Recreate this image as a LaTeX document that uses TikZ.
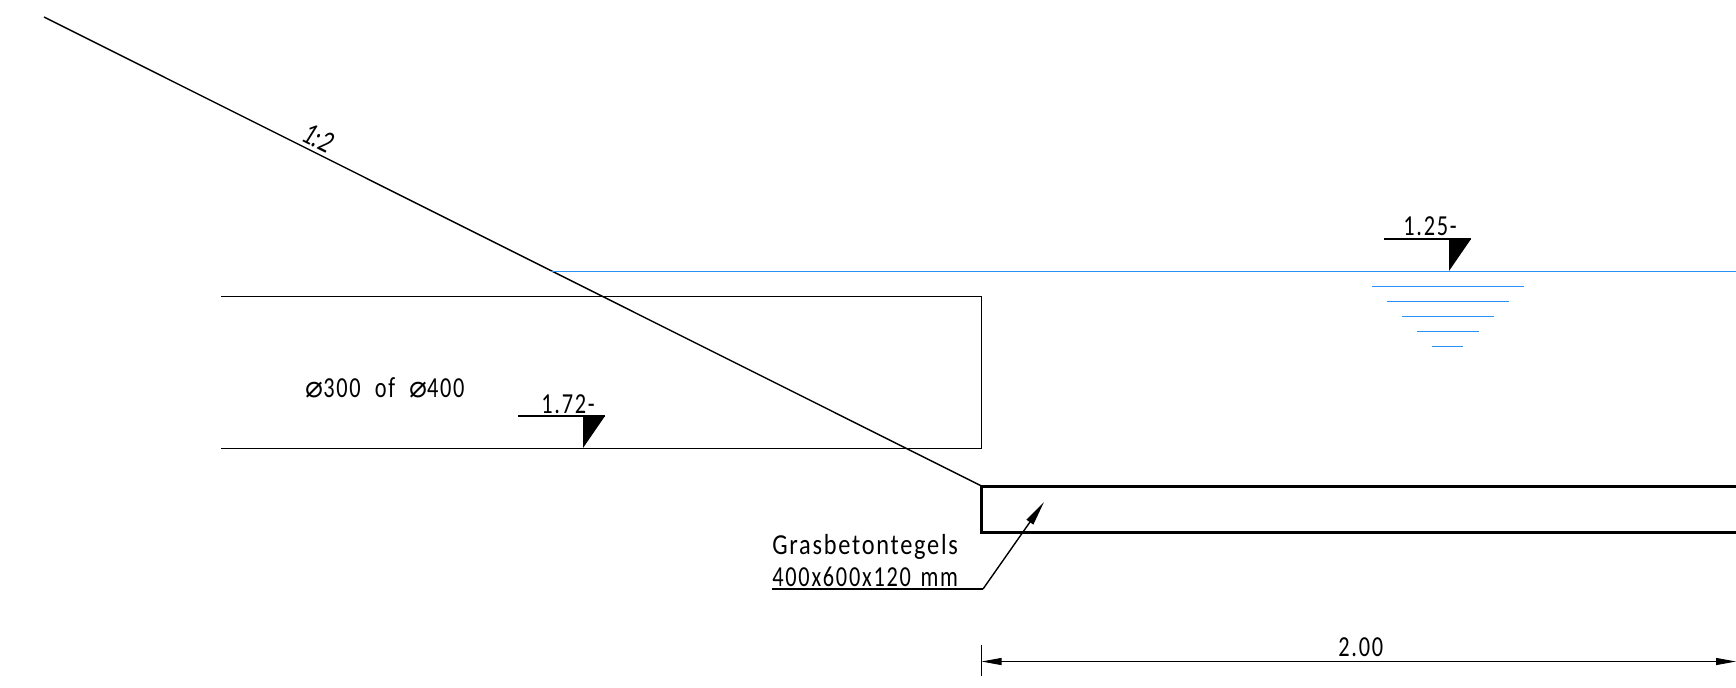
\documentclass[tikz,border=0pt]{standalone}
\usepackage{fontspec}
\setmainfont[LetterSpace=6,FakeStretch=0.84]{Carlito}
\newfontfamily\numfont[LetterSpace=6,FakeStretch=0.77]{Carlito}
\newfontfamily\slopefont[FakeStretch=0.74,ItalicFont={Carlito Italic}]{Carlito}
\newfontfamily\symfont{DejaVu Sans}
\usetikzlibrary{arrows.meta}
\definecolor{waterblue}{RGB}{40,145,250}
\newcommand{\dia}{{\symfont\fontsize{17}{18}\selectfont ⌀}}
\tikzset{
 x=0.02cm,y=-0.02cm,
 thinline/.style={line width=0.5pt,black},
 slopeline/.style={line width=0.8pt,black},
 plate/.style={line width=1.7pt,black,line join=miter},
 waterline/.style={line width=0.9pt,waterblue},
 levelbar/.style={line width=0.9pt,black},
 levelmark/.style={fill=black,draw=none},
 label/.style={inner sep=0pt,anchor=base west,font=\fontsize{16.5}{18}\selectfont},
 numlabel/.style={label,font=\fontsize{16.5}{18}\selectfont\numfont},
 longtip/.style={-{Triangle[length=14pt,width=4.6pt]}},
 dimtip/.style={{Triangle[length=11.4pt,width=4pt]}-{Triangle[length=11.4pt,width=4pt]}},
}
\begin{document}
\begin{tikzpicture}
\useasboundingbox (0,0) rectangle (1736,687);
% named points
\coordinate (slopeTop) at (44,17);
\coordinate (plateTL) at (981.5,486);
\coordinate (plateBL) at (981.5,532);
\coordinate (plateTR) at (1736,486);
\coordinate (plateBR) at (1736,532);
\coordinate (pipeTL) at (221,296.5);
\coordinate (pipeTR) at (981.5,296.5);
\coordinate (pipeBR) at (981.5,448.5);
\coordinate (pipeBL) at (221,448.5);
\coordinate (waterL) at (551,271.5);
\coordinate (waterR) at (1736,271.5);
\coordinate (leadL) at (772,589);
\coordinate (leadK) at (983,589);
\coordinate (leadT) at (1044,502);
\coordinate (tickT) at (981.5,645);
\coordinate (tickB) at (981.5,676);
\coordinate (dimL) at (981.5,661.5);
\coordinate (dimR) at (1736,661.5);
% geometry
\draw[slopeline] (slopeTop) -- (plateTL);
\draw[thinline] (pipeTL) -- (pipeTR) -- (pipeBR) -- (pipeBL);
\draw[plate] (plateTR) -- (plateTL) -- (plateBL) -- (plateBR);
\draw[waterline] (waterL) -- (waterR);
\foreach \y/\a/\b in {286.5/1372/1524,301.5/1387/1509,316.5/1402/1494,331.5/1417/1479,346.5/1432/1463}
  \draw[waterline] (\a,\y) -- (\b,\y);
% level marks
\coordinate (hA) at (1384,239); \coordinate (hB) at (1471,239);
\coordinate (hC) at (1449,239); \coordinate (hD) at (1449,271);
\draw[levelbar] (hA) -- (hB);
\fill[levelmark] (hC) -- (hB) -- (hD) -- cycle;
\coordinate (lA) at (518,416); \coordinate (lB) at (605,416);
\coordinate (lC) at (583,416); \coordinate (lD) at (583,448);
\draw[levelbar] (lA) -- (lB);
\fill[levelmark] (lC) -- (lB) -- (lD) -- cycle;
% leader
\draw[slopeline] (leadL) -- (leadK);
\draw[slopeline,longtip] (leadK) -- (leadT);
% dimension
\draw[thinline] (tickT) -- (tickB);
\draw[thinline,dimtip] (dimL) -- (dimR);
% labels
\node[numlabel] (lvlA) at (1403,235.5) {1.25-};
\node[numlabel] (lvlB) at (541,413) {1.72-};
\node[numlabel] (pipeText) at (305,397) {\dia 300\hspace{0.25em} of\hspace{0.25em} \dia 400};
\node[label] (plateA) at (772,554.5) {Grasbetontegels};
\node[numlabel] (plateB) at (772,586) {400x600x120\hspace{0.1em} mm};
\node[numlabel] (dimText) at (1338,656.5) {2.00};
\node[inner sep=0pt,rotate=-26.57,font=\fontsize{18}{20}\slopefont\itshape] (slopeText) at (318,138) {1:2};
\end{tikzpicture}
\end{document}
